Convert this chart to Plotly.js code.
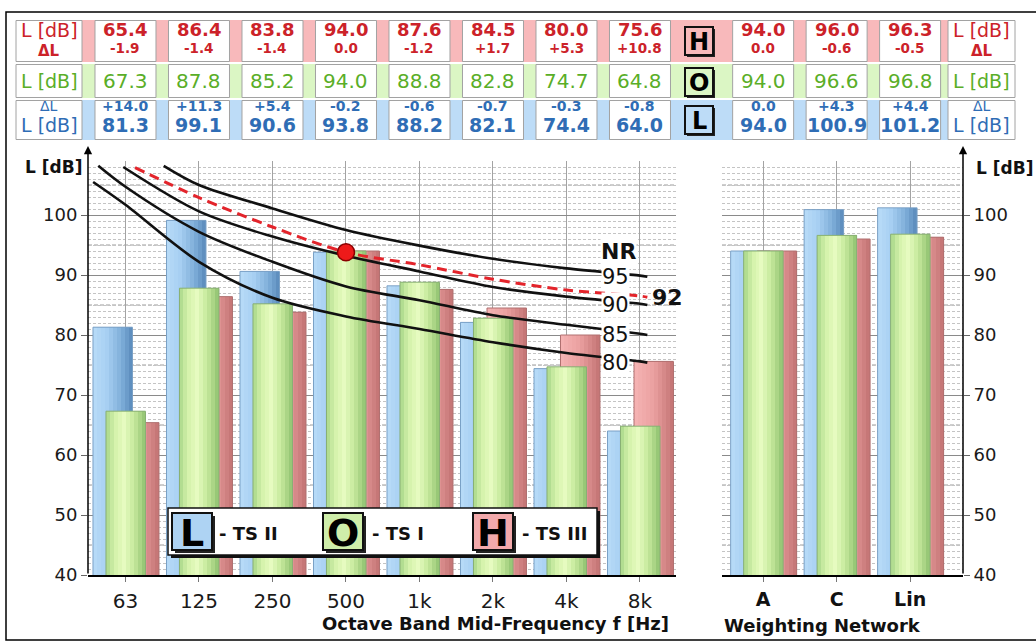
<!DOCTYPE html>
<html><head><meta charset="utf-8">
<script src="https://cdn.plot.ly/plotly-3.0.1.min.js"></script>
<style>html,body{margin:0;padding:0;background:#fff}#chart{width:1036px;height:642px}</style>
</head><body><div id="chart"></div>
<script>
// ================= DATA =================
const bands = ['63','125','250','500','1k','2k','4k','8k'];
const networks = ['A','C','Lin'];
// L - TS II (blue)
const tsII_bands = [81.3, 99.1, 90.6, 93.8, 88.2, 82.1, 74.4, 64.0];
const tsII_net   = [94.0, 100.9, 101.2];
const tsII_dL_bands = ['+14.0','+11.3','+5.4','-0.2','-0.6','-0.7','-0.3','-0.8'];
const tsII_dL_net   = ['0.0','+4.3','+4.4'];
// O - TS I (green)
const tsI_bands = [67.3, 87.8, 85.2, 94.0, 88.8, 82.8, 74.7, 64.8];
const tsI_net   = [94.0, 96.6, 96.8];
// H - TS III (red)
const tsIII_bands = [65.4, 86.4, 83.8, 94.0, 87.6, 84.5, 80.0, 75.6];
const tsIII_net   = [94.0, 96.0, 96.3];
const tsIII_dL_bands = ['-1.9','-1.4','-1.4','0.0','-1.2','+1.7','+5.3','+10.8'];
const tsIII_dL_net   = ['0.0','-0.6','-0.5'];
// NR curves: position on the band axis (band index) and level in dB
const nr80_pos = [-0.44, 0, 1, 2, 3, 4, 5, 6, 7, 7.1];
const nr80_L   = [105.5, 101.7, 92.2, 86.2, 83.1, 81.0, 78.8, 77.0, 75.6, 75.4];
const nr85_pos = [-0.37, 0, 1, 2, 3, 4, 5, 6, 7, 7.1];
const nr85_L   = [108.2, 104.7, 97.2, 92.2, 88.1, 85.8, 83.3, 81.7, 80.2, 80.0];
const nr90_pos = [-0.03, 1, 2, 3, 4, 5, 6, 7, 7.1];
const nr90_L   = [108.0, 100.6, 96.4, 93.2, 90.6, 88.0, 86.4, 85.2, 85.0];
const nr92_pos = [0.13, 1, 2, 3, 4, 5, 6, 7, 7.1];
const nr92_L   = [107.9, 102.9, 98.0, 93.8, 91.7, 89.3, 87.5, 86.5, 86.3];
const nr95_pos = [0.52, 1, 2, 3, 4, 5, 6, 7, 7.1];
const nr95_L   = [108.2, 105.0, 101.1, 97.5, 94.9, 92.7, 91.1, 89.9, 89.7];
const nrPointBand = ['500'];
const nrPointLevel = [93.8];
const legendLetters = ['L','O','H'];
const legendNames = ['- TS II','- TS I','- TS III'];

// ================= GEOMETRY / STYLE =================
const W = 1036, H = 642;
const PX = x => x / W, PY = y => 1 - y / H;
const FONT = 'DejaVu Sans';
const plotTop = 161, plotBot = 575;
const L_dom = [88, 676], R_dom = [722, 963];
const L_rng = [-0.51, 7.49], R_rng = [-0.56, 2.72];
const yRange = [40, 109];
const unitL = (L_dom[1]-L_dom[0])/(L_rng[1]-L_rng[0]);
const unitR = (R_dom[1]-R_dom[0])/(R_rng[1]-R_rng[0]);
const xpix = (i, dom, rng) => dom[0] + (i - rng[0])/(rng[1]-rng[0])*(dom[1]-dom[0]);

const RED_T = '#cc2229', GRN_T = '#5aae28', BLU_T = '#2f6db5';
const RED_B = '#f8b9bb', GRN_B = '#dbf6c4', BLU_B = '#bddcf7';

function hex2rgb(h){h=h.replace('#','');return [0,2,4].map(i=>parseInt(h.substr(i,2),16));}
function grad(stops, t){
  for (let i=0;i<stops.length-1;i++){
    const [t0,c0]=stops[i],[t1,c1]=stops[i+1];
    if (t>=t0 && t<=t1){
      const f=(t-t0)/(t1-t0), a=hex2rgb(c0), b=hex2rgb(c1);
      return 'rgb('+a.map((v,k)=>Math.round(v+(b[k]-v)*f)).join(',')+')';
    }
  }
  return stops[stops.length-1][1];
}
const blueStops  = [[0,'#b9dcf8'],[0.35,'#a7cff2'],[0.7,'#80afda'],[1,'#5889ba']];
const greenStops = [[0,'#a8d789'],[0.22,'#d4f2aa'],[0.45,'#e6fbc0'],[0.7,'#c6e99c'],[1,'#8fc170']];
const redStops   = [[0,'#f6b4b4'],[0.5,'#eaa0a0'],[1,'#c27272']];

const traces = [];
const barW = 39.5, NS = 10;
const series = [
  {off:-32.5, stops:blueStops,  edge:'#7aa0c6', vals:[tsII_bands, tsII_net]},
  {off:-6,    stops:redStops,   edge:'#b07070', vals:[tsIII_bands, tsIII_net]},
  {off:-19.5, stops:greenStops, edge:'#88b074', vals:[tsI_bands, tsI_net]},
];
const panels = [
  {xa:'x',  ya:'y',  unit:unitL, xs:bands.map((_,i)=>i)},
  {xa:'x2', ya:'y2', unit:unitR, xs:networks.map((_,i)=>i)}
];
for (const s of series){
  panels.forEach((pn,p)=>{
    const w = barW/pn.unit, o = s.off/pn.unit;
    for (let k=0;k<NS;k++){
      traces.push({type:'bar', x:pn.xs, y:s.vals[p], xaxis:pn.xa, yaxis:pn.ya,
        width: k<NS-1 ? w/NS*1.35 : w/NS, offset: o + k*w/NS,
        marker:{color:grad(s.stops,(k+0.5)/NS), line:{width:0}},
        hoverinfo:'skip', showlegend:false});
    }
    traces.push({type:'bar', x:pn.xs, y:s.vals[p], xaxis:pn.xa, yaxis:pn.ya,
      width:w, offset:o, marker:{color:'rgba(0,0,0,0)', line:{color:s.edge,width:1}},
      hoverinfo:'skip', showlegend:false});
  });
}
// NR curves
const curves = [
  {pos:nr80_pos, L:nr80_L, color:'#111', dash:'solid', w:2.6},
  {pos:nr85_pos, L:nr85_L, color:'#111', dash:'solid', w:2.6},
  {pos:nr90_pos, L:nr90_L, color:'#111', dash:'solid', w:2.6},
  {pos:nr95_pos, L:nr95_L, color:'#111', dash:'solid', w:2.6},
  {pos:nr92_pos, L:nr92_L, color:'#e3242b', dash:'10px,6px', w:3},
];
for (const c of curves){
  traces.push({type:'scatter', mode:'lines', x:c.pos, y:c.L, xaxis:'x', yaxis:'y',
    line:{color:c.color, width:c.w, dash:c.dash, shape:'spline', smoothing:0.9},
    hoverinfo:'skip', showlegend:false});
}
traces.push({type:'scatter', mode:'markers', x:nrPointBand.map(b=>bands.indexOf(b)), y:nrPointLevel,
  xaxis:'x', yaxis:'y', marker:{size:17, color:'#ee1a1a', line:{color:'#8a0000', width:1.5}},
  hoverinfo:'skip', showlegend:false, cliponaxis:false});

// ================= SHAPES & ANNOTATIONS =================
const shapes = [], ann = [];
const rect = (x0,y0,x1,y1,fill,line,lw,layer)=>shapes.push({type:'rect',xref:'paper',yref:'paper',
  x0:PX(x0),x1:PX(x1),y0:PY(y1),y1:PY(y0),fillcolor:fill||'rgba(0,0,0,0)',
  line:{color:line||'rgba(0,0,0,0)',width:lw||0},layer:layer||'above'});
const txt = (x,y,t,size,color,bold,opt)=>ann.push(Object.assign({xref:'paper',yref:'paper',x:PX(x),y:PY(y),
  text:t,showarrow:false,xanchor:'center',yanchor:'middle',borderpad:0,
  font:{family:FONT,size:size,color:color,weight:bold?'bold':'normal'}},opt||{}));

// frame
rect(6,12,1045,640,null,'#000',1.5);

// 5 dB intermediate grid lines
for (let v=45; v<=105; v+=10){
  ['x','x2'].forEach((xa,i)=>shapes.push({type:'line',xref:xa+' domain',yref:i?'y2':'y',x0:0,x1:1,y0:v,y1:v,
    line:{color:'#9c9c9c',width:1,dash:'4px,2px'},layer:'below'}));
}

// table
const rows = [{y0:20,y1:62,band:RED_B},{y0:64,y1:98,band:GRN_B},{y0:100,y1:140,band:BLU_B}];
rows.forEach(r=>rect(16,r.y0,1015,r.y1,r.band,null,0));
const cellXs = [];
bands.forEach((_,i)=>cellXs.push(xpix(i,L_dom,L_rng)));
networks.forEach((_,i)=>cellXs.push(xpix(i,R_dom,R_rng)));
rows.forEach(r=>{
  rect(16,r.y0+0.5,82,r.y1-0.5,'#fff','#a2a2a2',1);
  rect(948,r.y0+0.5,1015,r.y1-0.5,'#fff','#a2a2a2',1);
  cellXs.forEach(cx=>rect(cx-30.5,r.y0+0.5,cx+30.5,r.y1-0.5,'#fff','#a2a2a2',1));
});
// row labels (both sides)
[49, 981.5].forEach(lx=>{
  txt(lx,30,'L [dB]',19,RED_T,false);
  txt(lx,51,'ΔL',15,RED_T,true);
  txt(lx,81,'L [dB]',19,GRN_T,false);
  txt(lx,106,'ΔL',14,BLU_T,false);
  txt(lx,125,'L [dB]',19,BLU_T,false);
});
const redL = tsIII_bands.concat(tsIII_net), redD = tsIII_dL_bands.concat(tsIII_dL_net);
const grnL = tsI_bands.concat(tsI_net);
const bluL = tsII_bands.concat(tsII_net), bluD = tsII_dL_bands.concat(tsII_dL_net);
cellXs.forEach((cx,i)=>{
  txt(cx,29.5,redL[i].toFixed(1),18,RED_T,true);
  txt(cx,48,redD[i],13.5,RED_T,true);
  txt(cx,81,grnL[i].toFixed(1),20,GRN_T,false);
  txt(cx,106,bluD[i],14,BLU_T,true);
  txt(cx,125,bluL[i].toFixed(1),19,BLU_T,true);
});
// icon boxes in the table
const iconRows = [{y0:27,y1:55,l:legendLetters[2],f:RED_B},{y0:68,y1:96,l:legendLetters[1],f:GRN_B},{y0:106,y1:134,l:legendLetters[0],f:BLU_B}];
iconRows.forEach(ir=>{
  rect(687,ir.y0+2,715,ir.y1+2,'#222',null,0);
  rect(685,ir.y0,713,ir.y1,ir.f,'#111',2);
  txt(699,(ir.y0+ir.y1)/2+1,ir.l,24,'#000',true);
});

// legend
rect(171,511,600,558,'#111',null,0);
rect(168,508,597,555,'#fff','#111',1.5);
const legItems = [{x0:172,f:'#aed3f3',tx:218},{x0:323,f:'#cfeeaa',tx:371},{x0:473,f:'#f2a9ab',tx:521}];
legItems.forEach((it,i)=>{
  rect(it.x0+3,516,it.x0+43,553,'#222',null,0);
  rect(it.x0,513,it.x0+40,550,it.f,'#111',2);
  txt(it.x0+20,533,legendLetters[i],38,'#000',true);
  txt(it.tx,533,legendNames[i],18,'#111',true,{xanchor:'left'});
});

// NR labels
const curveLabelX = 615;
[[nr95_L,'95'],[nr90_L,'90'],[nr85_L,'85'],[nr80_L,'80']].forEach(([arr,t])=>{
  ann.push({xref:'paper',yref:'y',x:PX(curveLabelX),y:arr[arr.length-1],text:t,showarrow:false,
    xanchor:'center',yanchor:'middle',bgcolor:'#fff',borderpad:0,
    font:{family:FONT,size:21,color:'#111'}});
});
ann.push({xref:'paper',yref:'y',x:PX(650),y:nr92_L[nr92_L.length-1],text:'92',showarrow:false,
  xanchor:'left',yanchor:'middle',font:{family:FONT,size:22,color:'#111',weight:'bold'}});
txt(618,251,'NR',22,'#111',true,{bgcolor:'#fff'});

// axis titles
txt(53,167,'L [dB]',17,'#111',true);
txt(1004,168,'L [dB]',17,'#111',true);
txt(495,623,'Octave Band Mid-Frequency f [Hz]',18,'#111',true);
txt(822,625,'Weighting Network',18,'#111',true);

// axis arrows
[L_dom[0], R_dom[1]].forEach(ax=>{
  ann.push({xref:'paper',yref:'paper',x:PX(ax),y:PY(146),ax:0,ay:plotBot-146,axref:'pixel',ayref:'pixel',
    text:'',showarrow:true,arrowhead:2,arrowsize:1.1,arrowwidth:1.5,arrowcolor:'#000',standoff:0,startstandoff:0});
});

// ================= LAYOUT =================
const yDom = [PY(plotBot), PY(plotTop)];
const yCommon = {domain:yDom, range:yRange, tick0:40, dtick:10, showgrid:true, gridcolor:'#8a8a8a', gridwidth:1,
  zeroline:false, showline:false, ticks:'outside', ticklen:6, tickcolor:'#666',
  tickfont:{family:FONT,size:18,color:'#1a1a1a'}, fixedrange:true,
  minor:{dtick:1, tick0:40, showgrid:true, gridcolor:'#c4c4c4', griddash:'3px,2px', gridwidth:1, ticks:''}};
const layout = {
  width:W, height:H, margin:{l:0,r:0,t:0,b:0}, paper_bgcolor:'#fff', plot_bgcolor:'#fff',
  barmode:'overlay', showlegend:false, bargap:0,
  xaxis:{domain:[PX(L_dom[0]),PX(L_dom[1])], range:L_rng, anchor:'y', tickvals:bands.map((_,i)=>i), ticktext:bands,
    showgrid:true, gridcolor:'#a3a3a3', zeroline:false, showline:true, linecolor:'#000', linewidth:1.5,
    ticks:'outside', ticklen:5, tickcolor:'#777', ticklabelstandoff:2,
    tickfont:{family:FONT,size:20,color:'#1a1a1a'}, fixedrange:true},
  xaxis2:{domain:[PX(R_dom[0]),PX(R_dom[1])], range:R_rng, anchor:'y2', tickvals:networks.map((_,i)=>i), ticktext:networks,
    showgrid:true, gridcolor:'#a3a3a3', zeroline:false, showline:true, linecolor:'#000', linewidth:1.5,
    ticks:'outside', ticklen:5, tickcolor:'#777', ticklabelstandoff:2,
    tickfont:{family:FONT,size:19,color:'#111',weight:'bold'}, fixedrange:true},
  yaxis:Object.assign({anchor:'x', side:'left'}, yCommon),
  yaxis2:Object.assign({anchor:'x2', side:'right'}, yCommon),
  shapes:shapes, annotations:ann
};
Plotly.newPlot('chart', traces, layout, {staticPlot:true, displayModeBar:false});
</script></body></html>
